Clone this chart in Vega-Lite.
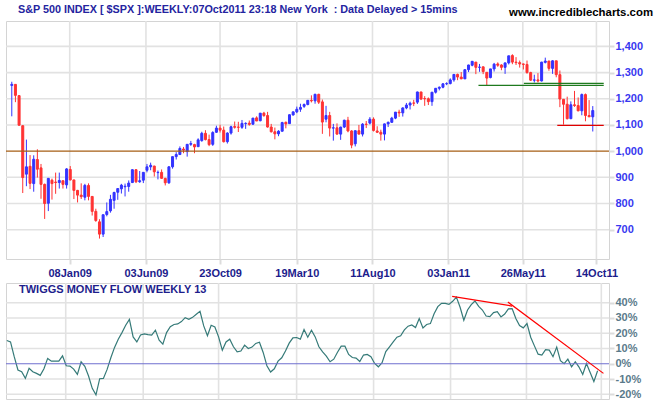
{
"$schema": "https://vega.github.io/schema/vega-lite/v6.json",
"background": "white",
"padding": {"left": 4, "top": 3, "right": 0, "bottom": 0},
"bounds": "flush",
"spacing": 24,
"title": {"text": "www.incrediblecharts.com", "anchor": "end", "frame": "bounds", "offset": -14, "dx": 10, "fontSize": 11.4, "fontWeight": "bold", "color": "#000000", "font": "Liberation Sans"},
"config": {
  "font": "Liberation Sans",
  "view": {"stroke": "#d4d4d4"},
  "axis": {"grid": false, "domain": false, "tickColor": "#dcdcdc", "tickWidth": 2, "tickCount": 30, "labelFont": "Liberation Sans", "labelFontWeight": "bold", "labelFontSize": 11, "labelOverlap": false, "labelBound": false, "title": null}
},
"datasets": {
"px": [
{"d":"2008-09-19","o":1251,"h":1265,"l":1133,"c":1255},
{"d":"2008-09-26","o":1255,"h":1256,"l":1187,"c":1213},
{"d":"2008-10-03","o":1212,"h":1213,"l":1097,"c":1099},
{"d":"2008-10-10","o":1097,"h":1098,"l":840,"c":899},
{"d":"2008-10-17","o":912,"h":1044,"l":866,"c":940},
{"d":"2008-10-24","o":942,"h":985,"l":855,"c":877},
{"d":"2008-10-31","o":876,"h":984,"l":845,"c":969},
{"d":"2008-11-07","o":968,"h":1007,"l":899,"c":931},
{"d":"2008-11-14","o":936,"h":951,"l":818,"c":873},
{"d":"2008-11-21","o":873,"h":876,"l":741,"c":800},
{"d":"2008-11-28","o":801,"h":897,"l":771,"c":896},
{"d":"2008-12-05","o":889,"h":895,"l":815,"c":876},
{"d":"2008-12-12","o":882,"h":918,"l":837,"c":880},
{"d":"2008-12-19","o":880,"h":918,"l":857,"c":888},
{"d":"2008-12-26","o":887,"h":887,"l":857,"c":873},
{"d":"2009-01-02","o":871,"h":935,"l":857,"c":932},
{"d":"2009-01-09","o":930,"h":943,"l":888,"c":890},
{"d":"2009-01-16","o":890,"h":890,"l":817,"c":850},
{"d":"2009-01-23","o":850,"h":852,"l":804,"c":832},
{"d":"2009-01-30","o":832,"h":877,"l":817,"c":826},
{"d":"2009-02-06","o":824,"h":875,"l":812,"c":869},
{"d":"2009-02-13","o":869,"h":877,"l":812,"c":827},
{"d":"2009-02-20","o":827,"h":827,"l":754,"c":770},
{"d":"2009-02-27","o":770,"h":780,"l":730,"c":735},
{"d":"2009-03-06","o":730,"h":740,"l":666,"c":683},
{"d":"2009-03-13","o":683,"h":758,"l":672,"c":757},
{"d":"2009-03-20","o":758,"h":804,"l":751,"c":769},
{"d":"2009-03-27","o":772,"h":833,"l":765,"c":816},
{"d":"2009-04-03","o":812,"h":845,"l":780,"c":842},
{"d":"2009-04-10","o":843,"h":857,"l":814,"c":857},
{"d":"2009-04-17","o":856,"h":875,"l":838,"c":870},
{"d":"2009-04-24","o":864,"h":876,"l":827,"c":866},
{"d":"2009-05-01","o":865,"h":888,"l":845,"c":878},
{"d":"2009-05-08","o":880,"h":930,"l":878,"c":929},
{"d":"2009-05-15","o":929,"h":930,"l":878,"c":883},
{"d":"2009-05-22","o":883,"h":924,"l":879,"c":887},
{"d":"2009-05-29","o":889,"h":920,"l":878,"c":919},
{"d":"2009-06-05","o":927,"h":951,"l":919,"c":940},
{"d":"2009-06-12","o":940,"h":956,"l":927,"c":946},
{"d":"2009-06-19","o":943,"h":944,"l":903,"c":921},
{"d":"2009-06-26","o":918,"h":926,"l":892,"c":919},
{"d":"2009-07-03","o":919,"h":930,"l":895,"c":896},
{"d":"2009-07-10","o":896,"h":898,"l":869,"c":879},
{"d":"2009-07-17","o":879,"h":943,"l":875,"c":940},
{"d":"2009-07-24","o":940,"h":979,"l":933,"c":979},
{"d":"2009-07-31","o":979,"h":996,"l":968,"c":987},
{"d":"2009-08-07","o":987,"h":1018,"l":985,"c":1010},
{"d":"2009-08-14","o":1008,"h":1016,"l":992,"c":1004},
{"d":"2009-08-21","o":998,"h":1027,"l":979,"c":1026},
{"d":"2009-08-28","o":1026,"h":1039,"l":1020,"c":1029},
{"d":"2009-09-04","o":1025,"h":1028,"l":992,"c":1016},
{"d":"2009-09-11","o":1017,"h":1049,"l":1017,"c":1043},
{"d":"2009-09-18","o":1040,"h":1074,"l":1036,"c":1068},
{"d":"2009-09-25","o":1068,"h":1080,"l":1041,"c":1044},
{"d":"2009-10-02","o":1044,"h":1063,"l":1019,"c":1025},
{"d":"2009-10-09","o":1026,"h":1076,"l":1020,"c":1071},
{"d":"2009-10-16","o":1072,"h":1097,"l":1070,"c":1088},
{"d":"2009-10-23","o":1088,"h":1101,"l":1071,"c":1080},
{"d":"2009-10-30","o":1080,"h":1094,"l":1033,"c":1036},
{"d":"2009-11-06","o":1036,"h":1072,"l":1029,"c":1069},
{"d":"2009-11-13","o":1069,"h":1097,"l":1063,"c":1093},
{"d":"2009-11-20","o":1094,"h":1113,"l":1086,"c":1091},
{"d":"2009-11-27","o":1092,"h":1112,"l":1073,"c":1091},
{"d":"2009-12-04","o":1091,"h":1119,"l":1085,"c":1106},
{"d":"2009-12-11","o":1105,"h":1110,"l":1085,"c":1106},
{"d":"2009-12-18","o":1107,"h":1117,"l":1097,"c":1102},
{"d":"2009-12-25","o":1103,"h":1127,"l":1100,"c":1126},
{"d":"2010-01-01","o":1127,"h":1133,"l":1115,"c":1115},
{"d":"2010-01-08","o":1116,"h":1145,"l":1114,"c":1145},
{"d":"2010-01-15","o":1145,"h":1150,"l":1131,"c":1136},
{"d":"2010-01-22","o":1136,"h":1150,"l":1090,"c":1092},
{"d":"2010-01-29","o":1092,"h":1104,"l":1071,"c":1074},
{"d":"2010-02-05","o":1074,"h":1090,"l":1045,"c":1066},
{"d":"2010-02-12","o":1066,"h":1080,"l":1057,"c":1076},
{"d":"2010-02-19","o":1076,"h":1112,"l":1075,"c":1109},
{"d":"2010-02-26","o":1110,"h":1113,"l":1087,"c":1104},
{"d":"2010-03-05","o":1105,"h":1140,"l":1105,"c":1139},
{"d":"2010-03-12","o":1138,"h":1151,"l":1136,"c":1150},
{"d":"2010-03-19","o":1150,"h":1170,"l":1145,"c":1160},
{"d":"2010-03-26","o":1160,"h":1181,"l":1150,"c":1167},
{"d":"2010-04-02","o":1171,"h":1182,"l":1165,"c":1178},
{"d":"2010-04-09","o":1178,"h":1194,"l":1175,"c":1194},
{"d":"2010-04-16","o":1194,"h":1213,"l":1186,"c":1192},
{"d":"2010-04-23","o":1192,"h":1219,"l":1181,"c":1217},
{"d":"2010-04-30","o":1217,"h":1219,"l":1180,"c":1187},
{"d":"2010-05-07","o":1188,"h":1197,"l":1066,"c":1111},
{"d":"2010-05-14","o":1122,"h":1173,"l":1110,"c":1136},
{"d":"2010-05-21","o":1136,"h":1150,"l":1056,"c":1088},
{"d":"2010-05-28","o":1088,"h":1104,"l":1040,"c":1089},
{"d":"2010-06-04","o":1089,"h":1106,"l":1063,"c":1065},
{"d":"2010-06-11","o":1065,"h":1093,"l":1043,"c":1092},
{"d":"2010-06-18","o":1092,"h":1120,"l":1088,"c":1118},
{"d":"2010-06-25","o":1118,"h":1131,"l":1072,"c":1077},
{"d":"2010-07-02","o":1077,"h":1080,"l":1011,"c":1023},
{"d":"2010-07-09","o":1028,"h":1078,"l":1018,"c":1078},
{"d":"2010-07-16","o":1078,"h":1100,"l":1064,"c":1065},
{"d":"2010-07-23","o":1065,"h":1107,"l":1056,"c":1103},
{"d":"2010-07-30","o":1103,"h":1115,"l":1088,"c":1102},
{"d":"2010-08-06","o":1107,"h":1130,"l":1102,"c":1122},
{"d":"2010-08-13","o":1122,"h":1129,"l":1075,"c":1079},
{"d":"2010-08-20","o":1077,"h":1095,"l":1069,"c":1072},
{"d":"2010-08-27","o":1072,"h":1082,"l":1040,"c":1065},
{"d":"2010-09-03","o":1065,"h":1105,"l":1041,"c":1104},
{"d":"2010-09-10","o":1104,"h":1113,"l":1092,"c":1110},
{"d":"2010-09-17","o":1110,"h":1131,"l":1108,"c":1126},
{"d":"2010-09-24","o":1126,"h":1149,"l":1122,"c":1149},
{"d":"2010-10-01","o":1149,"h":1158,"l":1131,"c":1146},
{"d":"2010-10-08","o":1146,"h":1167,"l":1132,"c":1165},
{"d":"2010-10-15","o":1165,"h":1184,"l":1160,"c":1176},
{"d":"2010-10-22","o":1176,"h":1189,"l":1159,"c":1183},
{"d":"2010-10-29","o":1184,"h":1196,"l":1172,"c":1183},
{"d":"2010-11-05","o":1187,"h":1227,"l":1180,"c":1226},
{"d":"2010-11-12","o":1226,"h":1226,"l":1195,"c":1199},
{"d":"2010-11-19","o":1201,"h":1210,"l":1173,"c":1200},
{"d":"2010-11-26","o":1200,"h":1205,"l":1176,"c":1189},
{"d":"2010-12-03","o":1189,"h":1225,"l":1173,"c":1225},
{"d":"2010-12-10","o":1225,"h":1241,"l":1220,"c":1240},
{"d":"2010-12-17","o":1240,"h":1247,"l":1232,"c":1244},
{"d":"2010-12-24","o":1244,"h":1260,"l":1240,"c":1257},
{"d":"2010-12-31","o":1257,"h":1263,"l":1252,"c":1258},
{"d":"2011-01-07","o":1258,"h":1278,"l":1255,"c":1272},
{"d":"2011-01-14","o":1272,"h":1294,"l":1265,"c":1293},
{"d":"2011-01-21","o":1293,"h":1296,"l":1271,"c":1283},
{"d":"2011-01-28","o":1283,"h":1302,"l":1275,"c":1276},
{"d":"2011-02-04","o":1276,"h":1312,"l":1276,"c":1311},
{"d":"2011-02-11","o":1311,"h":1330,"l":1302,"c":1329},
{"d":"2011-02-18","o":1328,"h":1344,"l":1324,"c":1343},
{"d":"2011-02-25","o":1340,"h":1340,"l":1294,"c":1320},
{"d":"2011-03-04","o":1320,"h":1333,"l":1303,"c":1321},
{"d":"2011-03-11","o":1322,"h":1323,"l":1294,"c":1304},
{"d":"2011-03-18","o":1301,"h":1302,"l":1249,"c":1279},
{"d":"2011-03-25","o":1281,"h":1314,"l":1278,"c":1314},
{"d":"2011-04-01","o":1314,"h":1337,"l":1304,"c":1332},
{"d":"2011-04-08","o":1333,"h":1339,"l":1322,"c":1328},
{"d":"2011-04-15","o":1329,"h":1332,"l":1309,"c":1320},
{"d":"2011-04-22","o":1320,"h":1338,"l":1295,"c":1337},
{"d":"2011-04-29","o":1337,"h":1364,"l":1331,"c":1364},
{"d":"2011-05-06","o":1365,"h":1370,"l":1332,"c":1340},
{"d":"2011-05-13","o":1340,"h":1359,"l":1329,"c":1338},
{"d":"2011-05-20","o":1338,"h":1346,"l":1319,"c":1333},
{"d":"2011-05-27","o":1333,"h":1334,"l":1312,"c":1331},
{"d":"2011-06-03","o":1331,"h":1346,"l":1296,"c":1300},
{"d":"2011-06-10","o":1300,"h":1303,"l":1268,"c":1271},
{"d":"2011-06-17","o":1271,"h":1292,"l":1262,"c":1272},
{"d":"2011-06-24","o":1272,"h":1298,"l":1262,"c":1268},
{"d":"2011-07-01","o":1268,"h":1341,"l":1266,"c":1340},
{"d":"2011-07-08","o":1339,"h":1357,"l":1335,"c":1344},
{"d":"2011-07-15","o":1344,"h":1345,"l":1307,"c":1316},
{"d":"2011-07-22","o":1316,"h":1347,"l":1295,"c":1345},
{"d":"2011-07-29","o":1345,"h":1345,"l":1282,"c":1292},
{"d":"2011-08-05","o":1292,"h":1308,"l":1168,"c":1199},
{"d":"2011-08-12","o":1198,"h":1199,"l":1101,"c":1179},
{"d":"2011-08-19","o":1179,"h":1208,"l":1121,"c":1124},
{"d":"2011-08-26","o":1124,"h":1190,"l":1122,"c":1177},
{"d":"2011-09-02","o":1177,"h":1230,"l":1169,"c":1174},
{"d":"2011-09-09","o":1174,"h":1205,"l":1152,"c":1154},
{"d":"2011-09-16","o":1154,"h":1220,"l":1137,"c":1216},
{"d":"2011-09-23","o":1216,"h":1220,"l":1114,"c":1136},
{"d":"2011-09-30","o":1136,"h":1195,"l":1132,"c":1131},
{"d":"2011-10-07","o":1131,"h":1172,"l":1075,"c":1155}
],
"tmf": [
{"d":"2008-09-19","v":15.2},{"d":"2008-09-26","v":14.3},{"d":"2008-10-03","v":4.6},{"d":"2008-10-10","v":-4.1},
{"d":"2008-10-17","v":-5.2},{"d":"2008-10-24","v":-9.6},{"d":"2008-10-31","v":-3.0},{"d":"2008-11-07","v":-5.2},
{"d":"2008-11-14","v":-6.3},{"d":"2008-11-21","v":-7.6},{"d":"2008-11-28","v":-3.3},{"d":"2008-12-05","v":3.5},
{"d":"2008-12-12","v":1.7},{"d":"2008-12-19","v":1.7},{"d":"2008-12-26","v":1.7},{"d":"2009-01-02","v":5.2},
{"d":"2009-01-09","v":-1.3},{"d":"2009-01-16","v":-1.5},{"d":"2009-01-23","v":-3.5},{"d":"2009-01-30","v":-7.0},
{"d":"2009-02-06","v":1.3},{"d":"2009-02-13","v":-1.7},{"d":"2009-02-20","v":-8.0},{"d":"2009-02-27","v":-16.1},
{"d":"2009-03-06","v":-20.4},{"d":"2009-03-13","v":-9.8},{"d":"2009-03-20","v":-9.6},{"d":"2009-03-27","v":-3.7},
{"d":"2009-04-03","v":3.9},{"d":"2009-04-10","v":10.7},{"d":"2009-04-17","v":16.1},{"d":"2009-04-24","v":20.4},
{"d":"2009-05-01","v":25.2},{"d":"2009-05-08","v":29.1},{"d":"2009-05-15","v":17.6},{"d":"2009-05-22","v":14.3},
{"d":"2009-05-29","v":18.9},{"d":"2009-06-05","v":19.6},{"d":"2009-06-12","v":19.1},{"d":"2009-06-19","v":18.7},
{"d":"2009-06-26","v":22.0},{"d":"2009-07-03","v":15.4},{"d":"2009-07-10","v":12.8},{"d":"2009-07-17","v":20.4},
{"d":"2009-07-24","v":24.3},{"d":"2009-07-31","v":25.7},{"d":"2009-08-07","v":26.1},{"d":"2009-08-14","v":27.6},
{"d":"2009-08-21","v":30.2},{"d":"2009-08-28","v":29.1},{"d":"2009-09-04","v":30.4},{"d":"2009-09-11","v":32.4},
{"d":"2009-09-18","v":34.3},{"d":"2009-09-25","v":24.8},{"d":"2009-10-02","v":18.3},{"d":"2009-10-09","v":25.2},
{"d":"2009-10-16","v":24.1},{"d":"2009-10-23","v":17.6},{"d":"2009-10-30","v":8.9},{"d":"2009-11-06","v":14.3},
{"d":"2009-11-13","v":16.1},{"d":"2009-11-20","v":11.1},{"d":"2009-11-27","v":7.8},{"d":"2009-12-04","v":8.3},
{"d":"2009-12-11","v":12.2},{"d":"2009-12-18","v":10.0},{"d":"2009-12-25","v":10.9},{"d":"2010-01-01","v":13.3},
{"d":"2010-01-08","v":14.1},{"d":"2010-01-15","v":7.4},{"d":"2010-01-22","v":-1.3},{"d":"2010-01-29","v":-5.4},
{"d":"2010-02-05","v":-3.3},{"d":"2010-02-12","v":1.7},{"d":"2010-02-19","v":3.9},{"d":"2010-02-26","v":8.3},
{"d":"2010-03-05","v":13.5},{"d":"2010-03-12","v":17.0},{"d":"2010-03-19","v":17.2},{"d":"2010-03-26","v":16.1},
{"d":"2010-04-02","v":22.4},{"d":"2010-04-09","v":17.4},{"d":"2010-04-16","v":22.0},{"d":"2010-04-23","v":17.6},
{"d":"2010-04-30","v":11.1},{"d":"2010-05-07","v":7.8},{"d":"2010-05-14","v":5.0},{"d":"2010-05-21","v":1.3},
{"d":"2010-05-28","v":3.0},{"d":"2010-06-04","v":7.5},{"d":"2010-06-11","v":11.5},{"d":"2010-06-18","v":11.5},
{"d":"2010-06-25","v":6.1},{"d":"2010-07-02","v":4.1},{"d":"2010-07-09","v":3.7},{"d":"2010-07-16","v":1.5},
{"d":"2010-07-23","v":5.7},{"d":"2010-07-30","v":6.1},{"d":"2010-08-06","v":4.6},{"d":"2010-08-13","v":0.2},
{"d":"2010-08-20","v":-2.0},{"d":"2010-08-27","v":0.7},{"d":"2010-09-03","v":8.0},{"d":"2010-09-10","v":11.1},
{"d":"2010-09-17","v":14.3},{"d":"2010-09-24","v":17.4},{"d":"2010-10-01","v":18.3},{"d":"2010-10-08","v":22.2},
{"d":"2010-10-15","v":24.6},{"d":"2010-10-22","v":25.4},{"d":"2010-10-29","v":23.7},{"d":"2010-11-05","v":29.6},
{"d":"2010-11-12","v":23.5},{"d":"2010-11-19","v":25.7},{"d":"2010-11-26","v":26.3},{"d":"2010-12-03","v":32.8},
{"d":"2010-12-10","v":37.4},{"d":"2010-12-17","v":39.6},{"d":"2010-12-24","v":39.6},{"d":"2010-12-31","v":38.9},
{"d":"2011-01-07","v":40.9},{"d":"2011-01-14","v":43.7},{"d":"2011-01-21","v":37.0},{"d":"2011-01-28","v":28.5},
{"d":"2011-02-04","v":35.2},{"d":"2011-02-11","v":38.7},{"d":"2011-02-18","v":41.1},{"d":"2011-02-25","v":37.6},
{"d":"2011-03-04","v":35.2},{"d":"2011-03-11","v":31.3},{"d":"2011-03-18","v":30.9},{"d":"2011-03-25","v":33.5},
{"d":"2011-04-01","v":34.1},{"d":"2011-04-08","v":30.7},{"d":"2011-04-15","v":32.6},{"d":"2011-04-22","v":35.9},
{"d":"2011-04-29","v":36.1},{"d":"2011-05-06","v":29.6},{"d":"2011-05-13","v":25.0},{"d":"2011-05-20","v":23.5},
{"d":"2011-05-27","v":26.3},{"d":"2011-06-03","v":17.4},{"d":"2011-06-10","v":11.7},{"d":"2011-06-17","v":6.3},
{"d":"2011-06-24","v":5.7},{"d":"2011-07-01","v":9.3},{"d":"2011-07-08","v":8.9},{"d":"2011-07-15","v":4.6},
{"d":"2011-07-22","v":10.9},{"d":"2011-07-29","v":2.0},{"d":"2011-08-05","v":0.0},{"d":"2011-08-12","v":3.0},
{"d":"2011-08-19","v":-2.0},{"d":"2011-08-26","v":1.3},{"d":"2011-09-02","v":-2.2},{"d":"2011-09-09","v":-7.0},
{"d":"2011-09-16","v":0.2},{"d":"2011-09-23","v":-5.7},{"d":"2011-09-30","v":-11.7},{"d":"2011-10-07","v":-4.6}
],
"xgrid": [{"t":"2009-01-08"},{"t":"2009-06-03"},{"t":"2009-10-23"},{"t":"2010-03-19"},{"t":"2010-08-11"},{"t":"2011-01-03"},{"t":"2011-05-26"},{"t":"2011-10-14"}],
"ygridMain": [{"g":700},{"g":800},{"g":900},{"g":1100},{"g":1200},{"g":1300},{"g":1400}],
"ygridTmf": [{"g":-20},{"g":-10},{"g":10},{"g":20},{"g":30},{"g":40}]
},
"vconcat": [
{
  "width": 603, "height": 238,
  "title": {"text": "S&P 500 INDEX [ $SPX ]:WEEKLY:07Oct2011 23:18 New York\u00a0 : Data Delayed > 15mins", "anchor": "start", "frame": "group", "dx": 12, "offset": 5, "fontSize": 10.8, "fontWeight": "bold", "color": "#2424a0", "font": "Liberation Sans"},
  "encoding": {
    "x": {"field": "d", "type": "temporal",
          "scale": {"type": "utc", "domain": [{"year": 2008, "month": 9, "date": 17, "hours": 12, "utc": true}, {"year": 2011, "month": 10, "date": 28, "hours": 12, "utc": true}]},
          "axis": {"tickCount": 30, "values": [{"year": 2009, "month": 1, "date": 8, "utc": true}, {"year": 2009, "month": 6, "date": 3, "utc": true}, {"year": 2009, "month": 10, "date": 23, "utc": true}, {"year": 2010, "month": 3, "date": 19, "utc": true}, {"year": 2010, "month": 8, "date": 11, "utc": true}, {"year": 2011, "month": 1, "date": 3, "utc": true}, {"year": 2011, "month": 5, "date": 26, "utc": true}, {"year": 2011, "month": 10, "date": 14, "utc": true}],
                   "format": "%d%b%y", "labelColor": "#1c1c8c", "tickSize": 5, "labelPadding": 3, "labelOverlap": false, "labelFlush": false}}
  },
  "layer": [
    {
      "data": {"name": "ygridMain"},
      "mark": {"type": "rule", "color": "#e2e2e2", "strokeWidth": 1.6},
      "encoding": {"x": null, "y": {"field": "g", "type": "quantitative"}}
    },
    {
      "data": {"name": "xgrid"},
      "mark": {"type": "rule", "color": "#e2e2e2", "strokeWidth": 1.6},
      "encoding": {"x": {"field": "t", "type": "temporal"}}
    },
    {
      "data": {"name": "px"},
      "mark": {"type": "rule", "clip": true, "strokeWidth": 1},
      "encoding": {
        "y": {"field": "l", "type": "quantitative",
              "scale": {"domain": [588, 1497], "nice": false, "zero": false},
              "axis": {"tickCount": 30, "orient": "right", "values": [700, 800, 900, 1000, 1100, 1200, 1300, 1400], "format": ",d", "labelColor": "#3838f0", "tickSize": 5, "labelPadding": 1, "labelAlign": "left", "labelOverlap": false}},
        "y2": {"field": "h"},
        "color": {"condition": {"test": "datum.c >= datum.o", "value": "#3333ff"}, "value": "#ff3333"}
      }
    },
    {
      "data": {"name": "px"},
      "mark": {"type": "bar", "size": 2, "strokeWidth": 1, "clip": true},
      "encoding": {
        "y": {"field": "o", "type": "quantitative"},
        "y2": {"field": "c"},
        "color": {"condition": {"test": "datum.c >= datum.o", "value": "#3333ff"}, "value": "#ff3333"},
        "stroke": {"condition": {"test": "datum.c >= datum.o", "value": "#3333ff"}, "value": "#ff3333"}
      }
    },
    {
      "data": {"values": [{"level": 1000}]},
      "mark": {"type": "rule", "color": "#a65e14", "strokeWidth": 1.2},
      "encoding": {"x": null, "y": {"field": "level", "type": "quantitative"}}
    },
    {
      "data": {"values": [{"start": "2011-03-02", "end": "2011-10-28", "level": 1251}, {"start": "2011-05-28", "end": "2011-10-28", "level": 1259}]},
      "mark": {"type": "rule", "color": "#1e7a1e", "strokeWidth": 1.2, "clip": true},
      "encoding": {"x": {"field": "start", "type": "temporal"}, "x2": {"field": "end"}, "y": {"field": "level", "type": "quantitative"}}
    },
    {
      "data": {"values": [{"start": "2011-07-31", "end": "2011-10-28", "level": 1098.5}]},
      "mark": {"type": "rule", "color": "#e00000", "strokeWidth": 1.2, "clip": true},
      "encoding": {"x": {"field": "start", "type": "temporal"}, "x2": {"field": "end"}, "y": {"field": "level", "type": "quantitative"}}
    }
  ]
},
{
  "width": 603, "height": 116,
  "title": {"text": "TWIGGS MONEY FLOW WEEKLY 13", "anchor": "start", "frame": "group", "dx": 13, "offset": -13, "fontSize": 11, "fontWeight": "bold", "color": "#1e1e8c", "font": "Liberation Sans"},
  "layer": [
    {
      "data": {"name": "ygridTmf"},
      "mark": {"type": "rule", "color": "#e2e2e2", "strokeWidth": 1.6},
      "encoding": {"y": {"field": "g", "type": "quantitative"}}
    },
    {
      "data": {"name": "xgrid"},
      "mark": {"type": "rule", "color": "#e2e2e2", "strokeWidth": 1.6},
      "encoding": {"x": {"field": "t", "type": "temporal"}}
    },
    {
      "data": {"name": "tmf"},
      "mark": {"type": "line", "color": "#357a78", "strokeWidth": 1.2, "clip": true},
      "encoding": {
        "x": {"field": "d", "type": "temporal",
              "scale": {"type": "utc", "domain": [{"year": 2008, "month": 9, "date": 17, "hours": 12, "utc": true}, {"year": 2011, "month": 10, "date": 28, "hours": 12, "utc": true}]},
              "axis": {"tickCount": 30, "values": [{"year": 2009, "month": 1, "date": 8, "utc": true}, {"year": 2011, "month": 10, "date": 14, "utc": true}],
                       "labels": false, "ticks": false}},
        "y": {"field": "v", "type": "quantitative",
              "scale": {"domain": [-23.1, 52.9], "nice": false, "zero": false},
              "axis": {"tickCount": 30, "orient": "right", "values": [-20, -10, 0, 10, 20, 30, 40], "labelExpr": "datum.value + '%'", "labelColor": "#5a7a8a", "tickSize": 5, "labelPadding": 1, "labelAlign": "left", "labelOverlap": false}}
      }
    },
    {
      "data": {"values": [{"level": 0}]},
      "mark": {"type": "rule", "color": "#6f6fcf", "strokeWidth": 1.2},
      "encoding": {"y": {"field": "level", "type": "quantitative"}}
    },
    {
      "data": {"values": [{"d1": "2011-01-06", "v1": 44.1, "d2": "2011-04-29", "v2": 37.8}, {"d1": "2011-04-21", "v1": 40.4, "d2": "2011-10-18", "v2": -6.3}]},
      "mark": {"type": "rule", "color": "#ff0000", "strokeWidth": 1.2},
      "encoding": {"x": {"field": "d1", "type": "temporal"}, "x2": {"field": "d2"}, "y": {"field": "v1", "type": "quantitative"}, "y2": {"field": "v2"}}
    }
  ]
}
]
}
